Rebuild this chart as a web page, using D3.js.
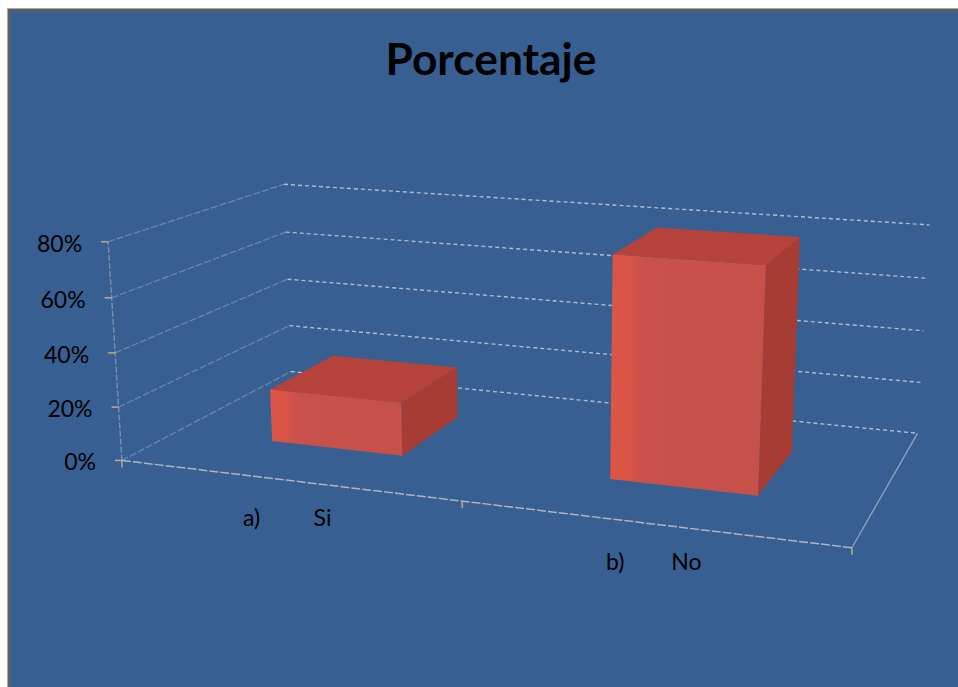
<!DOCTYPE html>
<html>
<head>
<meta charset="utf-8">
<script src="https://cdn.jsdelivr.net/npm/d3@7"></script>
<style>
  html, body { margin: 0; padding: 0; background: #ffffff; }
  svg { display: block; }
  text { font-family: "Lato", "Open Sans", "DejaVu Sans", sans-serif; }
</style>
</head>
<body>
<svg id="chart" width="958" height="687"></svg>
<script>
// ---- data ----
const categories = ["Si", "No"];
const categoryLetters = ["a)", "b)"];
const values = [0.20, 0.80];
const yTicks = [0, 0.2, 0.4, 0.6, 0.8];
const yTickLabels = ["0%", "20%", "40%", "60%", "80%"];
const chartTitle = "Porcentaje";

// ---- 3D frame: x across (0..1), y value (normalised 0..1), z depth (0..1) ----
// screen anchors of the frame corners used to fit a perspective camera
const frameAnchors = [
  [[0, 0, 0], [120, 460]],
  [[1, 0, 0], [852, 548]],
  [[0, 0, 1], [293, 372]],
  [[1, 0, 1], [917, 433]],
  [[0, 1, 0], [110, 242]],
  [[0, 1, 1], [282, 184]],
  [[1, 1, 1], [930, 225]]
];

// least-squares DLT fit of a 3x4 projection matrix
function fitProjection(anchors) {
  const A = [], b = [];
  anchors.forEach(([[X, Y, Z], [u, v]]) => {
    A.push([X, Y, Z, 1, 0, 0, 0, 0, -u * X, -u * Y, -u * Z]); b.push(u);
    A.push([0, 0, 0, 0, X, Y, Z, 1, -v * X, -v * Y, -v * Z]); b.push(v);
  });
  const n = 11;
  const M = [];
  for (let i = 0; i < n; i++) {
    const row = new Array(n + 1).fill(0);
    for (let j = 0; j < n; j++) for (let k = 0; k < A.length; k++) row[j] += A[k][i] * A[k][j];
    for (let k = 0; k < A.length; k++) row[n] += A[k][i] * b[k];
    M.push(row);
  }
  for (let c = 0; c < n; c++) {
    let p = c;
    for (let r = c + 1; r < n; r++) if (Math.abs(M[r][c]) > Math.abs(M[p][c])) p = r;
    [M[c], M[p]] = [M[p], M[c]];
    for (let r = 0; r < n; r++) {
      if (r === c) continue;
      const f = M[r][c] / M[c][c];
      for (let k = c; k <= n; k++) M[r][k] -= f * M[c][k];
    }
  }
  const h = M.map((row, i) => row[n] / row[i]);
  return (X, Y, Z) => {
    const w = h[8] * X + h[9] * Y + h[10] * Z + 1;
    return [(h[0] * X + h[1] * Y + h[2] * Z + h[3]) / w,
            (h[4] * X + h[5] * Y + h[6] * Z + h[7]) / w];
  };
}
const project = fitProjection(frameAnchors);

// ---- scales ----
const xScale = d3.scaleBand().domain(categories).range([0, 1]).paddingInner(0.6).paddingOuter(0.3);
const yScale = d3.scaleLinear().domain([0, 0.8]).range([0, 1]);
const zFront = 0.3, zBack = 0.7;

const P = (x, v, z) => project(x, yScale(v), z);
const line = d3.line();

const svg = d3.select("#chart");

// ---- frame / background ----
svg.append("rect").attr("x", 7).attr("y", 8).attr("width", 960).attr("height", 700).attr("fill", "#a8a8a8");
svg.append("rect").attr("x", 8).attr("y", 9).attr("width", 960).attr("height", 700).attr("fill", "#5e5e5e");
svg.append("rect").attr("x", 10.5).attr("y", 11.5).attr("width", 960).attr("height", 700).attr("fill", "#385f91");

// ---- title ----
svg.append("text")
  .attr("x", 491).attr("y", 75)
  .attr("text-anchor", "middle")
  .attr("font-size", 44).attr("font-weight", "bold")
  .attr("fill", "#000")
  .attr("textLength", 211).attr("lengthAdjust", "spacingAndGlyphs")
  .text(chartTitle);

const walls = svg.append("g");

// left wall gridlines
walls.selectAll(".lw").data(yTicks).join("path")
  .attr("d", v => line([P(0, v, 0), P(0, v, 1)]))
  .attr("fill", "none").attr("stroke", "#8498b4").attr("stroke-width", 1.4)
  .attr("stroke-dasharray", "7,2").attr("opacity", 0.65);

// back wall gridlines
walls.selectAll(".bw").data(yTicks).join("path")
  .attr("d", v => line([P(0, v, 1), P(1, v, 1)]))
  .attr("fill", "none").attr("stroke", "#c3ccd8").attr("stroke-width", 1.4)
  .attr("stroke-dasharray", "4,3").attr("opacity", 0.85);

// floor edges
walls.append("path").attr("d", line([P(0, 0, 0), P(1, 0, 0)]))
  .attr("fill", "none").attr("stroke", "#a9b4c4").attr("stroke-width", 1.5).attr("stroke-dasharray", "9,2");
walls.append("path").attr("d", line([P(1, 0, 0), P(1, 0, 1)]))
  .attr("fill", "none").attr("stroke", "#9fb0c6").attr("stroke-width", 1.3).attr("opacity", 0.85);

// vertical value axis
walls.append("path").attr("d", line([P(0, 0, 0), P(0, 0.8, 0)]))
  .attr("fill", "none").attr("stroke", "#8a9cb6").attr("stroke-width", 1.4)
  .attr("stroke-dasharray", "6,2").attr("opacity", 0.8);

// value ticks and labels
const tickColor = "#b6a78f";
yTicks.forEach((v, i) => {
  const [px, py] = P(0, v, 0);
  svg.append("line").attr("x1", px - 7).attr("x2", px).attr("y1", py).attr("y2", py)
    .attr("stroke", tickColor).attr("stroke-width", 1.6);
  svg.append("text")
    .attr("x", px - 26).attr("y", py + 1)
    .attr("text-anchor", "end").attr("dominant-baseline", "central")
    .attr("font-size", 23).attr("fill", "#000")
    .text(yTickLabels[i]);
});

// category boundary ticks along the front floor edge
[0, 0.5, 1].forEach(t => {
  const [px, py] = P(t, 0, 0);
  svg.append("line").attr("x1", px).attr("x2", px).attr("y1", py).attr("y2", py + 7)
    .attr("stroke", tickColor).attr("stroke-width", 1.6);
});

// ---- bars ----
const defs = svg.append("defs");
const grad = defs.append("linearGradient").attr("id", "frontFace")
  .attr("x1", "0").attr("x2", "1").attr("y1", "0").attr("y2", "0");
grad.append("stop").attr("offset", "0").attr("stop-color", "#dc5646");
grad.append("stop").attr("offset", "0.12").attr("stop-color", "#d75345");
grad.append("stop").attr("offset", "0.22").attr("stop-color", "#c9514b");
grad.append("stop").attr("offset", "1").attr("stop-color", "#c6504a");

const bars = svg.append("g");
categories.forEach((c, i) => {
  const x0 = xScale(c), x1 = x0 + xScale.bandwidth(), v = values[i];
  const g = bars.append("g");
  // right side
  g.append("path")
    .attr("d", line([P(x1, 0, zFront), P(x1, 0, zBack), P(x1, v, zBack), P(x1, v, zFront)]) + "Z")
    .attr("fill", "#a73c35");
  // top
  g.append("path")
    .attr("d", line([P(x0, v, zFront), P(x1, v, zFront), P(x1, v, zBack), P(x0, v, zBack)]) + "Z")
    .attr("fill", "#b5423b");
  // front
  g.append("path")
    .attr("d", line([P(x0, 0, zFront), P(x1, 0, zFront), P(x1, v, zFront), P(x0, v, zFront)]) + "Z")
    .attr("fill", "url(#frontFace)");
});

// ---- category labels ----
categories.forEach((c, i) => {
  const [cx, cy] = P(xScale(c) + xScale.bandwidth() / 2, 0, 0);
  const t = svg.append("text")
    .attr("font-size", 23).attr("fill", "#000")
    .attr("text-anchor", "middle").attr("dominant-baseline", "central");
  t.append("tspan").attr("x", cx - 35).attr("y", cy + 37).text(categoryLetters[i]);
  t.append("tspan").attr("x", cx + 36).attr("y", cy + 37).text(c);
});
</script>
</body>
</html>
